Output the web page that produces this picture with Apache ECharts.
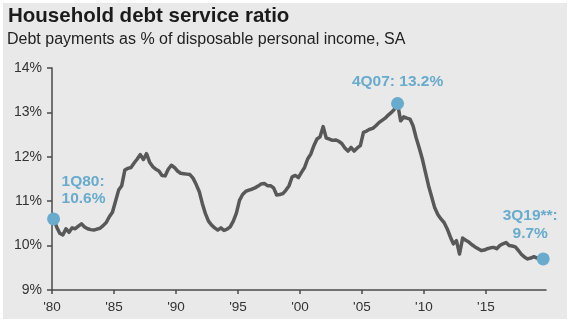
<!DOCTYPE html>
<html>
<head>
<meta charset="utf-8">
<script src="https://cdn.jsdelivr.net/npm/echarts@6/dist/echarts.min.js"></script>
<style>
  html, body { margin: 0; padding: 0; background: #ffffff; }
  #chart { width: 571px; height: 325px; }
</style>
</head>
<body>
<div id="chart"></div>
<script>
// Household debt service ratio, quarterly, 1Q80 to 3Q19 (percent of disposable personal income)
const startYear = 1980;
const ratio1980s = [
  10.60, 10.42, 10.28, 10.24,  10.38, 10.30, 10.40, 10.38,
  10.44, 10.49, 10.42, 10.38,  10.36, 10.35, 10.37, 10.39,
  10.45, 10.52, 10.65, 10.75,  11.00, 11.25, 11.35, 11.70,
  11.74, 11.76, 11.86, 11.95,  12.05, 11.94, 12.07, 11.88,
  11.78, 11.72, 11.68, 11.58,  11.57, 11.72, 11.81, 11.76
];
const ratio1990s = [
  11.68, 11.63, 11.62, 11.61,  11.60, 11.52, 11.38, 11.22,
  10.95, 10.72, 10.55, 10.46,  10.40, 10.35, 10.40, 10.34,
  10.37, 10.42, 10.55, 10.73,  11.02, 11.15, 11.22, 11.25,
  11.27, 11.30, 11.34, 11.39,  11.40, 11.35, 11.35, 11.30,
  11.14, 11.15, 11.17, 11.25,  11.35, 11.55, 11.58, 11.53
];
const ratio2000s = [
  11.65, 11.76, 11.95, 12.06,  12.25, 12.40, 12.45, 12.68,
  12.42, 12.40, 12.37, 12.38,  12.35, 12.30, 12.20, 12.13,
  12.21, 12.13, 12.20, 12.25,  12.55, 12.58, 12.62, 12.64,
  12.70, 12.77, 12.82, 12.87,  12.94, 13.00, 13.07, 13.20,
  12.81, 12.90, 12.87, 12.85,  12.70, 12.43, 12.20, 11.95
];
const ratio2010s = [
  11.65, 11.35, 11.10, 10.85,  10.70, 10.60, 10.52, 10.38,
  10.20, 10.04, 10.11, 9.81,   10.17, 10.12, 10.08, 10.02,
  9.97, 9.93, 9.89, 9.90,      9.93, 9.95, 9.96, 9.93,
  10.00, 10.04, 10.07, 10.00,  9.99, 9.97, 9.89, 9.80,
  9.74, 9.70, 9.72, 9.75,      9.72, 9.70, 9.70
];

// Highlighted quarters: [label, year, quarter, value]
const highlights = [
  ['1Q80', 1980, 1, 10.6],
  ['4Q07', 2007, 4, 13.2],
  ['3Q19**', 2019, 3, 9.7]
];

const xTickYears = [1980, 1985, 1990, 1995, 2000, 2005, 2010, 2015];
const yTicks = [9, 10, 11, 12, 13, 14];

const titleText = 'Household debt service ratio';
const subtitleText = 'Debt payments as % of disposable personal income, SA';

// Place each quarter at its midpoint in fractional years
const quarterTime = (year, q) => year + (q - 1) / 4 + 0.125;
const allValues = ratio1980s.concat(ratio1990s, ratio2000s, ratio2010s);
const lineData = allValues.map((v, i) =>
  [quarterTime(startYear + Math.floor(i / 4), (i % 4) + 1), v]);

const fontFamily = '"Liberation Sans", Arial, Helvetica, sans-serif';
const accent = '#68abcd';
const axisColor = '#4a4a4a';

const labelStyles = [
  { position: 'top', distance: 5, align: 'left', offset: [8, 0], lineHeight: 17 },
  { position: 'top', distance: 7, align: 'center', lineHeight: 17 },
  { position: 'top', distance: 10, align: 'center', offset: [-13, 0], lineHeight: 18 }
];

const pointData = highlights.map((h, i) => {
  const text = i === 1 ? `${h[0]}: ${h[3].toFixed(1)}%` : `${h[0]}:\n${h[3].toFixed(1)}%`;
  return {
    value: [quarterTime(h[1], h[2]), h[3]],
    label: Object.assign({ show: true, formatter: text }, labelStyles[i])
  };
});

const chart = echarts.init(document.getElementById('chart'), null, { renderer: 'canvas' });

chart.setOption({
  animation: false,
  backgroundColor: '#ffffff',
  textStyle: { fontFamily: fontFamily },
  graphic: [{
    type: 'rect',
    z: -10,
    shape: { x: 3, y: 3, width: 564, height: 316 },
    style: { fill: '#e9e9e9' }
  }],
  title: [
    {
      text: titleText,
      left: 3, top: 1,
      textStyle: { fontFamily: fontFamily, fontSize: 20.5, fontWeight: 'bold', color: '#1b1b1b' }
    },
    {
      text: subtitleText,
      left: 2, top: 27,
      textStyle: { fontFamily: fontFamily, fontSize: 16, fontWeight: 'normal', color: '#222222' }
    }
  ],
  grid: { left: 52, right: 25, top: 68, bottom: 35, containLabel: false },
  xAxis: {
    type: 'value',
    min: 1980, max: 2019.85, interval: 5,
    splitLine: { show: false },
    axisLine: { show: true, lineStyle: { color: axisColor, width: 1.5 } },
    axisTick: { show: true, length: 4, lineStyle: { color: axisColor, width: 1.5 }, customValues: xTickYears },
    axisLabel: {
      customValues: xTickYears,
      margin: 10,
      fontSize: 13.5,
      color: '#333333',
      fontFamily: fontFamily,
      formatter: v => "'" + String(Math.round(v)).slice(2)
    }
  },
  yAxis: {
    type: 'value',
    min: yTicks[0], max: yTicks[yTicks.length - 1], interval: 1,
    splitLine: { show: false },
    axisLine: { show: true, lineStyle: { color: axisColor, width: 1.5 } },
    axisTick: { show: true, length: 5, lineStyle: { color: axisColor, width: 1.5 } },
    axisLabel: {
      margin: 10,
      fontSize: 14,
      color: '#333333',
      fontFamily: fontFamily,
      formatter: '{value}%'
    }
  },
  series: [
    {
      type: 'line',
      data: lineData,
      showSymbol: false,
      symbol: 'none',
      lineStyle: { color: '#585858', width: 3.5, join: 'round' },
      z: 2
    },
    {
      type: 'scatter',
      data: pointData,
      symbolSize: 13,
      itemStyle: { color: accent, opacity: 1 },
      label: {
        color: accent,
        fontSize: 15.5,
        fontWeight: 'bold',
        fontFamily: fontFamily
      },
      z: 3
    }
  ]
});
</script>
</body>
</html>
